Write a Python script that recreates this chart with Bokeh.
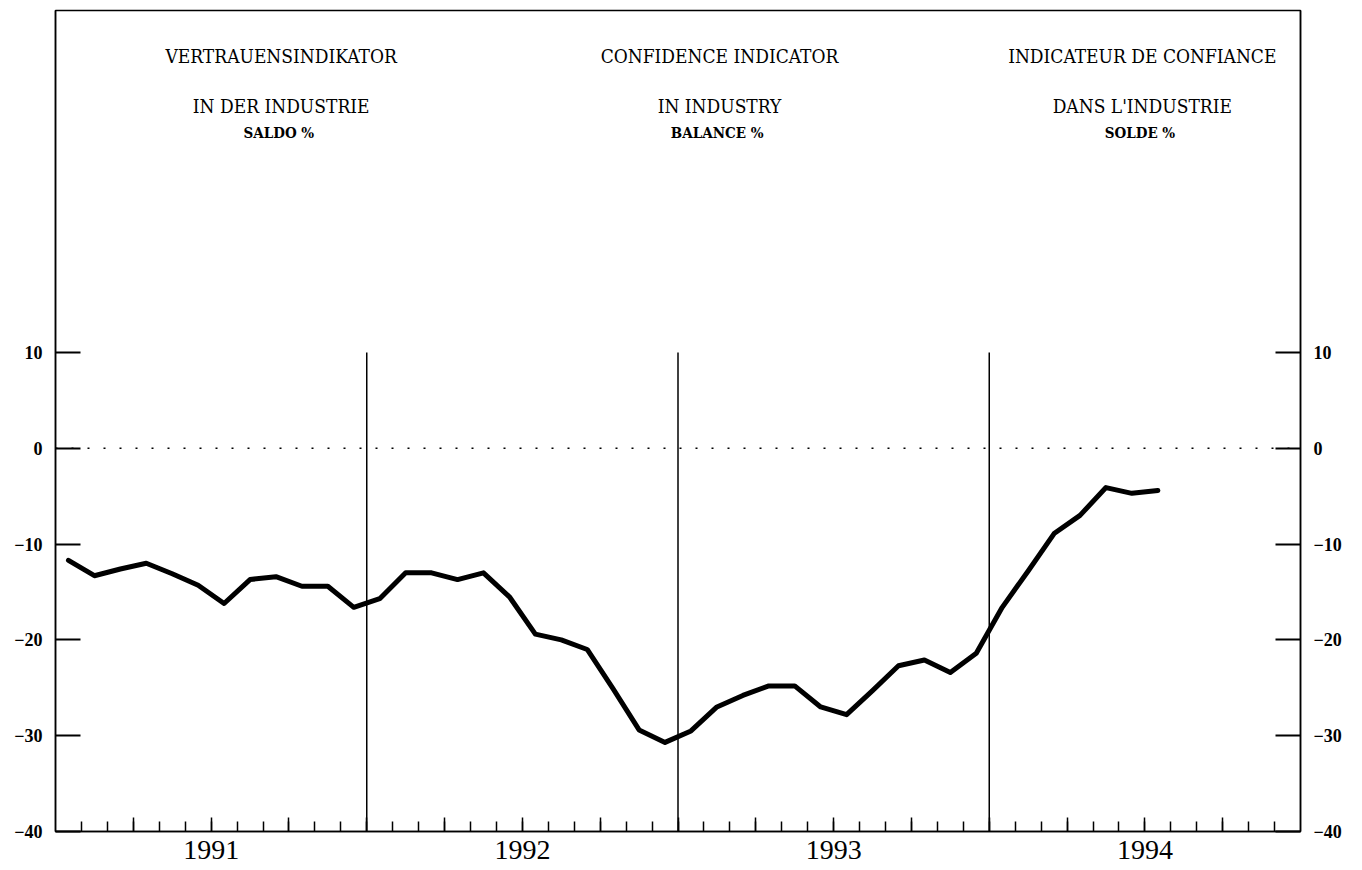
from bokeh.plotting import figure
from bokeh.models import Range1d, LinearAxis, FixedTicker
from bokeh.core.properties import value
from bokeh.embed import file_html
from bokeh.resources import INLINE

# ---- data ----
years = ["1991", "1992", "1993", "1994"]
vals_1991 = [-11.7, -13.3, -12.6, -12.0, -13.1, -14.3, -16.2, -13.7, -13.4, -14.4, -14.4, -16.6]
vals_1992 = [-15.7, -13.0, -13.0, -13.7, -13.0, -15.5, -19.4, -20.0, -21.0, -25.1, -29.4, -30.7]
vals_1993 = [-29.5, -27.0, -25.8, -24.8, -24.8, -27.0, -27.8, -25.3, -22.7, -22.1, -23.4, -21.4]
vals_1994 = [-16.6, -12.8, -8.9, -7.0, -4.1, -4.7, -4.4]
y_ticks = [-40, -30, -20, -10, 0, 10]

title_line1 = ["VERTRAUENSINDIKATOR", "CONFIDENCE INDICATOR", "INDICATEUR DE CONFIANCE"]
title_line2 = ["IN DER INDUSTRIE", "IN INDUSTRY", "DANS L'INDUSTRIE"]
title_line3 = ["SALDO  %", "BALANCE  %", "SOLDE  %"]

# ---- derived ----
values = vals_1991 + vals_1992 + vals_1993 + vals_1994
months = [i + 0.5 for i in range(len(values))]
n_months = 12 * len(years)
y_min, y_max = -40, 45.7

def fmt(v):
    return ("\u2212" + str(abs(v))) if v < 0 else str(v)

p = figure(width=1362, height=870,
           x_range=Range1d(0, n_months), y_range=Range1d(y_min, y_max),
           output_backend="svg", toolbar_location=None,
           x_axis_location=None, y_axis_location=None,
           min_border_left=55, min_border_right=62, min_border_top=10, min_border_bottom=39)
p.grid.visible = False
p.outline_line_color = "black"
p.outline_line_width = 1.5
p.background_fill_color = "white"
p.border_fill_color = "white"

tick_font = "Liberation Serif"
serif_c = "DejaVu Serif Condensed"

for side, standoff in (("left", 13), ("right", 13)):
    ax = LinearAxis(ticker=FixedTicker(ticks=y_ticks, minor_ticks=[]),
                    major_label_overrides={t: fmt(t) for t in y_ticks})
    ax.major_tick_in = 25
    ax.major_tick_out = 0
    ax.major_tick_line_width = 2
    ax.minor_tick_line_color = None
    ax.axis_line_width = 1.5
    ax.major_label_standoff = standoff
    ax.major_label_text_font = tick_font
    ax.major_label_text_font_style = "bold"
    ax.major_label_text_font_size = "18px"
    ax.major_label_text_color = "black"
    p.add_layout(ax, side)

quarters = list(range(3, n_months, 3))
year_mid = {6 + 12 * i: y for i, y in enumerate(years)}
xax = LinearAxis(ticker=FixedTicker(ticks=quarters, minor_ticks=list(range(1, n_months))),
                 major_label_overrides={q: year_mid.get(q, "") for q in quarters})
xax.major_tick_in = 14
xax.major_tick_out = 0
xax.minor_tick_in = 10
xax.minor_tick_out = 0
xax.major_tick_line_width = 1.5
xax.minor_tick_line_width = 1.5
xax.axis_line_width = 1.5
xax.major_label_standoff = 9
xax.major_label_text_font = tick_font
xax.major_label_text_font_size = "28px"
xax.major_label_text_color = "black"
p.add_layout(xax, "below")

# zero reference line (dotted)
p.line([0, n_months], [0, 0], line_color="black", line_width=1.5, line_dash="2 14")

# year separators
bounds = [12 * i for i in range(1, len(years))]
p.segment(x0=bounds, y0=[y_min] * len(bounds), x1=bounds, y1=[10] * len(bounds),
          line_color="black", line_width=1.5)

# series
p.line(months, values, line_color="black", line_width=5, line_join="round", line_cap="round")

# titles
tx = [8.7, 25.6, 41.9]
p.text(x=tx, y=[40.9] * 3, text=title_line1, text_font=value(serif_c), text_font_size="19px",
       text_align="center", text_baseline="middle", text_color="black")
p.text(x=tx, y=[35.7] * 3, text=title_line2, text_font=value(serif_c), text_font_size="19px",
       text_align="center", text_baseline="middle", text_color="black")
p.text(x=tx, y=[32.9] * 3, text=title_line3, text_font=value(serif_c), text_font_size="15px",
       text_font_style="bold", text_align="center", text_baseline="middle", text_color="black")

open("out.html", "w").write(file_html(p, INLINE))
